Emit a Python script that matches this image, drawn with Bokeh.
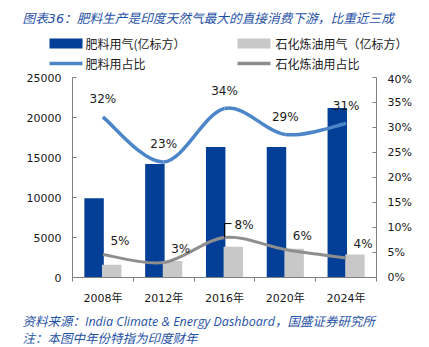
from bokeh.plotting import figure
from bokeh.layouts import column
from bokeh.models import (Range1d, LinearAxis, FixedTicker, PrintfTickFormatter, ColumnDataSource)
from bokeh.core.properties import value
from bokeh.embed import file_html
from bokeh.resources import INLINE

# ---------------- data ----------------
years = ["2008年", "2012年", "2016年", "2020年", "2024年"]
fert_gas = [9900, 14200, 16300, 16300, 21200]        # 肥料用气(亿标方)
petro_gas = [1600, 2050, 3850, 3600, 2880]           # 石化炼油用气(亿标方)
fert_share = [32.1, 23.1, 33.8, 28.6, 30.8]          # 肥料用占比 (%)
petro_share = [4.6, 3.0, 8.0, 5.6, 3.9]              # 石化炼油用占比 (%)
left_ticks = [0, 5000, 10000, 15000, 20000, 25000]
right_ticks = [0, 5, 10, 15, 20, 25, 30, 35, 40]

title_text = "图表36：肥料生产是印度天然气最大的直接消费下游，比重近三成"
source_text = "资料来源：India Climate & Energy Dashboard，国盛证券研究所"
note_text = "注：本图中年份特指为印度财年"
legend_labels = ["肥料用气(亿标方）", "石化炼油用气（亿标方）", "肥料用占比", "石化炼油用占比"]

# ---------------- style ----------------
W = 429
# vertical stack: title 27 + rule 2 + legend 43 + main 235 + rule 2 + footer 38 = 347
TITLE_H, RULE_H, LEG_H, MAIN_H, FOOT_H = 27, 2, 43, 235, 38
MAIN_TOP = TITLE_H + RULE_H + LEG_H         # 72
FL, FR = 72, 376                            # frame left/right (px)
FRAME_TOP, FRAME_BOTTOM = 77, 278           # frame top/bottom on the page
BLUE_BAR = "#033f96"
GRAY_BAR = "#c8c8c8"
BLUE_LINE = "#4d86c8"
GRAY_LINE = "#8e8e8e"
TITLE_BLUE = "#1f52a6"
AXIS = "#7f7f7f"
TXT = "#1a1a1a"
LATIN = "DejaVu Sans"
MIX = "DejaVu Sans, Noto Sans CJK SC"
MIX_FOOT = "Open Sans, Noto Sans CJK SC"
CJK = "Noto Sans CJK SC"


def no_align(f):
    if hasattr(f, "frame_align"):
        f.frame_align = False
    return f


def blank_fig(h, left=0, bg="white"):
    f = figure(width=W, height=h, output_backend="svg", toolbar_location=None,
               x_range=Range1d(0, W - left), y_range=Range1d(h, 0),
               x_axis_type=None, y_axis_type=None,
               min_border=0, min_border_left=left, min_border_right=0,
               min_border_top=0, min_border_bottom=0, margin=0)
    f.grid.visible = False
    f.outline_line_color = None
    f.background_fill_color = bg
    f.border_fill_color = "white"
    return no_align(f)


# ---------------- header: title ----------------
title_fig = blank_fig(TITLE_H)
title_fig.text(x=[22], y=[17.5], text=[title_text], text_font=value(MIX), text_font_size="12.7px",
               text_font_style="italic", text_color=TITLE_BLUE, text_baseline="middle",
               text_align="left")

# blue rule (frame background of a thin figure)
rule_top = blank_fig(RULE_H, left=11, bg=TITLE_BLUE)

# ---------------- legend ----------------
leg = blank_fig(LEG_H)
o = TITLE_H + RULE_H   # page y of this strip's top
leg.quad(left=[49, 237], right=[82, 270], top=[38 - o, 38 - o], bottom=[48 - o, 48 - o],
         fill_color=[BLUE_BAR, GRAY_BAR], line_color=None)
leg.segment(x0=[49], y0=[63 - o], x1=[82], y1=[63 - o], line_color=BLUE_LINE, line_width=3.5)
leg.segment(x0=[237], y0=[63 - o], x1=[270], y1=[63 - o], line_color=GRAY_LINE, line_width=3.5)
leg.text(x=[85, 275, 85, 275], y=[43 - o, 43 - o, 63 - o, 63 - o], text=legend_labels,
         text_font=value(CJK), text_font_size="12px", text_color=TXT,
         text_baseline="middle", text_align="left")

# ---------------- main chart ----------------
n = len(years)
centers = [i + 0.5 for i in range(n)]
bar_w = 0.32
bar_off = 0.145

p = figure(width=W, height=MAIN_H, output_backend="svg", toolbar_location=None,
           x_range=Range1d(0, n), y_range=Range1d(0, 25000),
           min_border_left=FL, min_border_right=W - FR,
           min_border_top=FRAME_TOP - MAIN_TOP,
           min_border_bottom=MAIN_TOP + MAIN_H - FRAME_BOTTOM, margin=0)
no_align(p)
p.extra_y_ranges = {"pct": Range1d(0, 40)}
p.outline_line_color = None
p.xgrid.grid_line_color = None
p.ygrid.grid_line_color = None
p.background_fill_color = "white"
p.border_fill_color = "white"

src_b = ColumnDataSource(dict(x=[c - bar_off for c in centers], top=fert_gas))
src_g = ColumnDataSource(dict(x=[c + bar_off for c in centers], top=petro_gas))
p.vbar(x="x", top="top", width=bar_w, source=src_b, fill_color=BLUE_BAR, line_color=None)
p.vbar(x="x", top="top", width=bar_w, source=src_g, fill_color=GRAY_BAR, line_color=None)


def smooth(xs, ys):
    """Catmull-Rom -> cubic Bezier control points through the data points."""
    P = list(zip(xs, ys))
    m = len(P)
    out = dict(x0=[], y0=[], x1=[], y1=[], cx0=[], cy0=[], cx1=[], cy1=[])
    for i in range(m - 1):
        p0 = P[max(i - 1, 0)]
        p1 = P[i]
        p2 = P[i + 1]
        p3 = P[min(i + 2, m - 1)]
        out["x0"].append(p1[0]); out["y0"].append(p1[1])
        out["x1"].append(p2[0]); out["y1"].append(p2[1])
        out["cx0"].append(p1[0] + (p2[0] - p0[0]) / 6)
        out["cy0"].append(p1[1] + (p2[1] - p0[1]) / 6)
        out["cx1"].append(p2[0] - (p3[0] - p1[0]) / 6)
        out["cy1"].append(p2[1] - (p3[1] - p1[1]) / 6)
    return ColumnDataSource(out)


p.bezier(x0="x0", y0="y0", x1="x1", y1="y1", cx0="cx0", cy0="cy0", cx1="cx1", cy1="cy1",
         source=smooth(centers, fert_share), y_range_name="pct",
         line_color=BLUE_LINE, line_width=3.5)
p.bezier(x0="x0", y0="y0", x1="x1", y1="y1", cx0="cx0", cy0="cy0", cx1="cx1", cy1="cy1",
         source=smooth(centers, petro_share), y_range_name="pct",
         line_color=GRAY_LINE, line_width=3)

# data labels
p.text(x=centers, y=fert_share, text=[f"{round(v)}%" for v in fert_share],
       y_range_name="pct", y_offset=-18, text_align="center", text_baseline="middle",
       text_font=value(LATIN), text_font_size="12px", text_color=TXT)

imax = petro_share.index(max(petro_share))
norm_idx = [i for i in range(n) if i != imax]
p.text(x=[centers[i] for i in norm_idx], y=[petro_share[i] for i in norm_idx],
       text=[f"{round(petro_share[i])}%" for i in norm_idx],
       y_range_name="pct", x_offset=17, y_offset=-14, text_align="center", text_baseline="middle",
       text_font=value(LATIN), text_font_size="12px", text_color=TXT)
# leader line for the peak label
up = 14 / (FRAME_BOTTOM - FRAME_TOP) * 40
right = 7 / (FR - FL) * n
lx, ly = centers[imax], petro_share[imax]
p.line(x=[lx, lx, lx + right], y=[ly, ly + up, ly + up], y_range_name="pct",
       line_color="#000000", line_width=1)
p.text(x=[lx + right], y=[ly + up], text=[f"{round(petro_share[imax])}%"],
       y_range_name="pct", x_offset=3, y_offset=1, text_align="left", text_baseline="middle",
       text_font=value(LATIN), text_font_size="12px", text_color=TXT)

# axes
xa = p.xaxis[0]
xa.ticker = FixedTicker(ticks=centers, minor_ticks=list(range(n + 1)))
xa.major_label_overrides = {c: y for c, y in zip(centers, years)}
xa.major_tick_line_color = None
xa.minor_tick_in = 0
xa.minor_tick_out = 4
xa.minor_tick_line_color = AXIS
xa.axis_line_color = AXIS
xa.major_label_standoff = 8
xa.major_label_text_font = MIX
xa.major_label_text_font_size = "11px"
xa.major_label_text_color = TXT

ya = p.yaxis[0]
ya.ticker = FixedTicker(ticks=left_ticks)
ya.major_tick_in = 4
ya.major_tick_out = 0
ya.minor_tick_line_color = None
ya.axis_line_color = AXIS
ya.major_tick_line_color = AXIS
ya.major_label_standoff = 11
ya.major_label_text_font = LATIN
ya.major_label_text_font_size = "11px"
ya.major_label_text_color = TXT

ra = LinearAxis(y_range_name="pct", ticker=FixedTicker(ticks=right_ticks),
                formatter=PrintfTickFormatter(format="%d%%"))
ra.major_tick_in = 4
ra.major_tick_out = 0
ra.minor_tick_line_color = None
ra.axis_line_color = AXIS
ra.major_tick_line_color = AXIS
ra.major_label_standoff = 11
ra.major_label_text_font = LATIN
ra.major_label_text_font_size = "11px"
ra.major_label_text_color = TXT
p.add_layout(ra, "right")

# ---------------- footer: rule, source, note ----------------
rule_bot = blank_fig(RULE_H, left=11, bg=TITLE_BLUE)
foot = blank_fig(FOOT_H)
f0 = MAIN_TOP + MAIN_H + RULE_H   # page y of the footer strip's top
foot.text(x=[22], y=[320.5 - f0], text=[source_text],
          text_font=value(MIX_FOOT), text_font_size="12.5px", text_font_style="italic",
          text_color=TITLE_BLUE, text_baseline="middle", text_align="left")
foot.text(x=[22], y=[337.5 - f0], text=[note_text],
          text_font=value(MIX), text_font_size="12.5px", text_font_style="italic",
          text_color=TITLE_BLUE, text_baseline="middle", text_align="left")

layout = column(title_fig, rule_top, leg, p, rule_bot, foot, spacing=0, margin=0)
open("out.html", "w").write(file_html(layout, INLINE))
